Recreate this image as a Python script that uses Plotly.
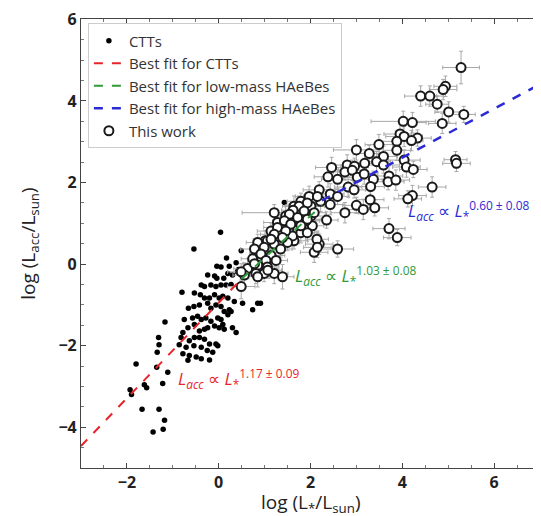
import plotly.graph_objects as go

# ---------------- data ----------------
ctt_x = [0.04, -0.54, -0.80, -1.17, -1.31, -1.30, -1.34, -1.80, -1.35, -1.11,
         -1.22, -1.62, -1.57, -1.93, -1.90, -1.67, -1.30, -1.18, -1.21, -1.43,
         -0.04, 0.05, 0.17, 0.23, 0.38, 0.43, 0.49, 0.74, 0.78,
         -0.24, -0.09, -0.04, 0.11, 0.20, 0.30, 0.41,
         -0.38, -0.31, -0.17, -0.06, 0.05, 0.16, 0.27,
         -0.53, -0.40, -0.31, -0.20, -0.09, 0.01, 0.09, 0.20, 0.34,
         -0.66, -0.54, -0.42, -0.24, -0.17, -0.06, 0.05, 0.12, 0.23, 0.52, 0.74, 0.85, 0.91,
         -0.75, -0.57, -0.46, -0.38, -0.28, -0.17, -0.02, 0.05, 0.20, 0.27,
         -0.78, -0.67, -0.53, -0.42, -0.31, -0.24, -0.09, 0.01, 0.12, 0.30, 0.38,
         -0.82, -0.64, -0.53, -0.42, -0.31, -0.20, -0.06, 0.09,
         -0.86, -0.71, -0.54, -0.38, -0.25, -0.13, -0.02,
         -0.78, -0.64, -0.49, -0.38, -0.20, -0.67,
         1.43, 1.78]
ctt_y = [0.78, 0.37, -0.69, -1.42, -1.80, -1.98, -2.16, -2.45, -2.53, -2.65,
         -2.93, -2.96, -3.03, -3.08, -3.20, -3.56, -3.56, -3.83, -4.05, -4.12,
         -0.05, -0.07, 0.15, -0.05, 0.03, -0.13, 0.33, 0.21, 0.09,
         -0.27, -0.29, -0.35, -0.35, -0.23, -0.27, -0.19,
         -0.51, -0.55, -0.51, -0.55, -0.51, -0.51, -0.50,
         -0.71, -0.75, -0.83, -0.83, -0.75, -0.83, -0.79, -0.83, -0.92,
         -1.08, -1.04, -1.00, -0.96, -1.08, -1.00, -1.04, -1.16, -1.12, -0.96, -1.12, -0.96, -0.96,
         -1.36, -1.32, -1.28, -1.36, -1.32, -1.40, -1.32, -1.36, -1.24, -1.16,
         -1.68, -1.56, -1.48, -1.64, -1.60, -1.56, -1.52, -1.56, -1.60, -1.56, -1.68,
         -1.80, -1.88, -1.80, -1.80, -1.84, -1.96, -1.96, -1.48,
         -1.98, -2.04, -2.00, -2.04, -2.12, -2.16, -2.00,
         -2.20, -2.24, -2.28, -2.32, -2.35, -2.36,
         1.51, 0.73]

hae_x = [5.28, 4.94, 4.89, 4.40, 4.60, 4.76, 5.01, 5.34, 4.87, 4.02,
         4.22, 3.95, 4.04, 4.33, 4.20, 3.49, 3.88, 3.00, 3.28, 3.59,
         3.88, 5.16, 5.18, 4.04, 4.09, 4.24, 2.46, 2.80, 2.96, 3.18,
         3.44, 3.59, 2.38, 2.75, 2.91, 2.59, 3.02, 3.17, 3.37, 3.71,
         3.69, 3.86, 2.82, 2.95, 3.31, 4.65, 2.19, 2.43, 2.59, 1.97,
         4.22, 4.12, 2.22, 1.79, 1.64, 2.01, 2.43, 3.00, 3.15, 3.40,
         2.75, 2.35, 2.01, 3.71, 3.89, 1.46, 1.28, 1.57, 1.14, 1.01,
         1.64, 2.19, 2.59, 3.30, 2.14, 2.08, 2.04, 1.90, 1.72, 1.61,
         1.50, 1.79, 1.93, 2.15, 1.93, 1.75, 1.62, 1.86, 2.08, 1.54,
         1.72, 1.93, 1.43, 1.57, 1.79, 1.28, 1.46, 1.21, 1.39, 1.06,
         0.85, 1.21, 0.99, 0.78, 1.35, 2.15, 0.92, 1.14, 0.74, 1.03,
         1.25, 0.85, 1.06, 0.63, 0.56, 0.81, 0.99, 1.21, 1.39, 0.49,
         0.85, 0.49, 0.78, 1.07, 1.14, 1.21]
hae_y = [4.82, 4.36, 4.28, 4.12, 4.12, 3.92, 3.73, 3.67, 3.45, 3.50,
         3.47, 3.19, 3.13, 3.09, 3.03, 2.93, 3.01, 2.80, 2.71, 2.64,
         2.79, 2.56, 2.47, 2.55, 2.38, 2.32, 2.37, 2.43, 2.40, 2.47,
         2.51, 2.43, 2.14, 2.26, 2.30, 2.08, 2.13, 2.21, 2.08, 2.16,
         2.02, 2.06, 1.89, 1.82, 1.90, 1.89, 1.82, 1.72, 1.66, 1.66,
         1.68, 1.60, 1.54, 1.54, 1.42, 1.42, 1.46, 1.44, 1.34, 1.38,
         1.26, 1.08, 1.18, 0.87, 0.65, 1.18, 1.02, 1.02, 0.81, 0.57,
         0.57, 0.49, 0.37, 1.58, 0.61, 0.29, 0.94, 1.06, 0.85, 0.69,
         0.53, 0.77, 0.77, 1.66, 1.50, 1.42, 1.32, 1.30, 1.26, 1.22,
         1.14, 1.10, 1.06, 0.98, 0.94, 0.90, 0.81, 0.73, 0.65, 0.57,
         0.53, 0.49, 0.41, 0.37, 0.37, 0.41, 0.25, 0.21, 0.13, 0.09,
         0.09, -0.03, -0.07, -0.11, -0.27, -0.23, -0.23, -0.23, -0.31, -0.55,
         -0.31, -0.19, 0.01, -0.15, 0.61, 1.26]
hae_ex = [0.40, 0.25, 0.30, 0.35, 0.30, 0.25, 0.30, 0.25, 0.30, 0.70,
          0.30, 0.35, 0.40, 0.30, 0.25, 0.30, 0.35, 0.50, 0.35, 0.30,
          0.30, 0.25, 0.30, 0.35, 0.30, 0.30, 0.35, 0.30, 0.30, 0.40,
          0.30, 0.35, 0.30, 0.25, 0.30, 0.35, 0.30, 0.30, 0.25, 0.30,
          0.35, 0.30, 0.30, 0.25, 0.30, 0.30, 0.35, 0.30, 0.25, 0.30,
          0.30, 0.30, 0.25, 0.30, 0.25, 0.30, 0.30, 0.30, 0.35, 0.30,
          0.30, 0.25, 0.30, 0.35, 0.30, 0.25, 0.30, 0.25, 0.30, 0.25,
          0.30, 0.30, 0.35, 0.30, 0.25, 0.30, 0.25, 0.30, 0.25, 0.30,
          0.25, 0.30, 0.25, 0.30, 0.25, 0.30, 0.25, 0.30, 0.25, 0.30,
          0.25, 0.30, 0.25, 0.30, 0.25, 0.30, 0.25, 0.30, 0.25, 0.30,
          0.25, 0.30, 0.25, 0.30, 0.25, 0.30, 0.25, 0.30, 0.25, 0.30,
          0.25, 0.30, 0.25, 0.30, 0.25, 0.30, 0.25, 0.30, 0.25, 0.30,
          0.25, 0.30, 0.25, 0.30, 0.25, 0.70]
hae_ey = [0.40, 0.25, 0.25, 0.25, 0.25, 0.20, 0.25, 0.20, 0.25, 0.25,
          0.25, 0.25, 0.25, 0.20, 0.25, 0.25, 0.25, 0.25, 0.20, 0.25,
          0.25, 0.20, 0.20, 0.25, 0.25, 0.20, 0.25, 0.25, 0.20, 0.25,
          0.25, 0.20, 0.25, 0.20, 0.25, 0.25, 0.20, 0.25, 0.20, 0.25,
          0.20, 0.25, 0.25, 0.20, 0.25, 0.25, 0.20, 0.25, 0.20, 0.25,
          0.25, 0.20, 0.25, 0.20, 0.25, 0.20, 0.25, 0.20, 0.25, 0.20,
          0.25, 0.20, 0.25, 0.25, 0.20, 0.25, 0.20, 0.25, 0.20, 0.25,
          0.20, 0.25, 0.20, 0.25, 0.20, 0.25, 0.20, 0.25, 0.20, 0.25,
          0.20, 0.25, 0.20, 0.25, 0.20, 0.25, 0.20, 0.25, 0.20, 0.25,
          0.20, 0.25, 0.20, 0.25, 0.20, 0.25, 0.20, 0.25, 0.20, 0.25,
          0.20, 0.25, 0.20, 0.25, 0.20, 0.25, 0.20, 0.25, 0.20, 0.25,
          0.20, 0.25, 0.20, 0.25, 0.30, 0.25, 0.20, 0.25, 0.30, 0.30,
          0.25, 0.20, 0.25, 0.20, 0.25, 0.20]

# fit lines (end points)
fit_ctt_x = [-3.0, 0.5]
fit_ctt_y = [-4.46, -0.36]
fit_low_x = [0.5, 2.25]
fit_low_y = [-0.36, 1.44]
fit_high_x = [2.25, 7.0]
fit_high_y = [1.56, 4.41]

x_ticks = [-2, 0, 2, 4, 6]
x_ticktext = ["\u22122", "0", "2", "4", "6"]
y_ticks = [-4, -2, 0, 2, 4, 6]
y_ticktext = ["\u22124", "\u22122", "0", "2", "4", "6"]

RED = "#e8242b"
GREEN = "#2e9a3a"
BLUE = "#2b2bd6"

fig = go.Figure()

fig.add_trace(go.Scatter(
    x=ctt_x, y=ctt_y, mode="markers", name="CTTs", legendrank=1,
    marker=dict(color="black", size=5.5, symbol="circle")))

fig.add_trace(go.Scatter(
    x=hae_x, y=hae_y, mode="markers", name="This work", legendrank=5,
    error_x=dict(type="data", array=hae_ex, color="#a8a8a8", thickness=1, width=2),
    error_y=dict(type="data", array=hae_ey, color="#a8a8a8", thickness=1, width=2),
    marker=dict(color="white", size=9, symbol="circle",
                line=dict(color="#1a1a1a", width=2))))

fig.add_trace(go.Scatter(
    x=fit_ctt_x, y=fit_ctt_y, mode="lines", name="Best fit for CTTs", legendrank=2,
    line=dict(color=RED, dash="dash", width=2)))
fig.add_trace(go.Scatter(
    x=fit_low_x, y=fit_low_y, mode="lines", name="Best fit for low-mass HAeBes", legendrank=3,
    line=dict(color=GREEN, dash="dash", width=2)))
fig.add_trace(go.Scatter(
    x=fit_high_x, y=fit_high_y, mode="lines", name="Best fit for high-mass HAeBes", legendrank=4,
    line=dict(color=BLUE, dash="dash", width=2.5)))

ann_font = dict(family="Open Sans", size=17)
fig.add_annotation(x=-0.92, y=-2.80, xref="x", yref="y", showarrow=False,
                   xanchor="left", yanchor="middle",
                   text="<i>L<sub>acc</sub></i> ∝ <i>L</i><sub>*</sub><sup>1.17 ± 0.09</sup>",
                   font=dict(color=RED, **ann_font))
fig.add_annotation(x=1.62, y=-0.28, xref="x", yref="y", showarrow=False,
                   xanchor="left", yanchor="middle",
                   text="<i>L<sub>acc</sub></i> ∝ <i>L</i><sub>*</sub><sup>1.03 ± 0.08</sup>",
                   font=dict(color=GREEN, **ann_font))
fig.add_annotation(x=4.08, y=1.31, xref="x", yref="y", showarrow=False,
                   xanchor="left", yanchor="middle",
                   text="<i>L<sub>acc</sub></i> ∝ <i>L</i><sub>*</sub><sup>0.60 ± 0.08</sup>",
                   font=dict(color=BLUE, **ann_font))

# axis titles
title_font = dict(family="Open Sans", size=19, color="#222222")
fig.add_annotation(x=0.5, y=-0.077, xref="paper", yref="paper", showarrow=False,
                   xanchor="center", yanchor="middle",
                   text="log (L<sub>*</sub>/L<sub>sun</sub>)", font=title_font)
fig.add_annotation(x=-0.115, y=0.5, xref="paper", yref="paper", showarrow=False,
                   xanchor="center", yanchor="middle", textangle=-90,
                   text="log (L<sub>acc</sub>/L<sub>sun</sub>)", font=title_font)

axis_common = dict(
    showgrid=False, zeroline=False, showline=True, linecolor="#444444", linewidth=1.2,
    mirror="ticks", ticks="inside", ticklen=5, tickcolor="#444444",
    minor=dict(ticks="inside", ticklen=3, tickcolor="#777777", dtick=0.5),
    tickfont=dict(family="Open Sans", size=16, color="#222222", weight="bold"),
    ticklabeloverflow="allow", automargin=False,
)

fig.update_xaxes(range=[-3, 7], tickvals=x_ticks, ticktext=x_ticktext, **axis_common)
fig.update_yaxes(range=[-5, 6.01], tickvals=y_ticks, ticktext=y_ticktext, **axis_common)

fig.update_layout(
    width=541, height=516,
    margin=dict(l=73, r=9, t=11, b=56),
    paper_bgcolor="white", plot_bgcolor="white",
    showlegend=True,
    legend=dict(x=0.015, y=0.99, xanchor="left", yanchor="top",
                bgcolor="white", bordercolor="#cccccc", borderwidth=1,
                font=dict(family="Open Sans", size=15, color="#333333"),
                itemwidth=30, tracegroupgap=0),
)

fig.write_html("out.html")
